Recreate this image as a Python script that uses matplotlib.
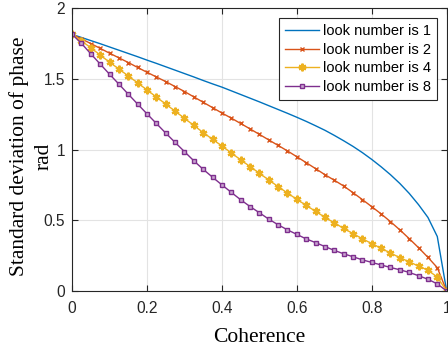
import numpy as np
import matplotlib
matplotlib.use("Agg")
import matplotlib.pyplot as plt

coherence = [i * 0.025 for i in range(41)]

std_L1 = [1.814, 1.792, 1.770, 1.748, 1.725, 1.702, 1.679, 1.656, 1.632, 1.609,
          1.585, 1.561, 1.537, 1.513, 1.488, 1.464, 1.441, 1.415, 1.389, 1.363,
          1.337, 1.310, 1.283, 1.256, 1.228, 1.199, 1.168, 1.136, 1.100, 1.062,
          1.022, 0.978, 0.930, 0.878, 0.822, 0.760, 0.690, 0.610, 0.520, 0.385,
          0.000]
std_L2 = [1.814, 1.782, 1.749, 1.715, 1.681, 1.648, 1.615, 1.580, 1.546, 1.513,
          1.480, 1.445, 1.410, 1.372, 1.334, 1.296, 1.258, 1.222, 1.184, 1.146,
          1.107, 1.068, 1.029, 0.990, 0.949, 0.907, 0.865, 0.822, 0.783, 0.742,
          0.695, 0.646, 0.596, 0.545, 0.490, 0.432, 0.370, 0.306, 0.238, 0.165,
          0.000]
std_L4 = [1.814, 1.768, 1.719, 1.668, 1.617, 1.569, 1.520, 1.471, 1.421, 1.371,
          1.321, 1.271, 1.221, 1.170, 1.120, 1.072, 1.025, 0.976, 0.927, 0.880,
          0.832, 0.785, 0.738, 0.692, 0.648, 0.605, 0.563, 0.521, 0.481, 0.443,
          0.405, 0.369, 0.335, 0.302, 0.268, 0.236, 0.206, 0.176, 0.147, 0.098,
          0.000]
std_L8 = [1.814, 1.750, 1.676, 1.604, 1.532, 1.462, 1.391, 1.321, 1.252, 1.184,
          1.116, 1.050, 0.985, 0.920, 0.860, 0.804, 0.750, 0.697, 0.645, 0.597,
          0.553, 0.508, 0.468, 0.432, 0.400, 0.368, 0.342, 0.314, 0.287, 0.263,
          0.242, 0.220, 0.202, 0.184, 0.166, 0.150, 0.131, 0.108, 0.083, 0.050,
          0.000]

labels = ["look number is 1", "look number is 2", "look number is 4", "look number is 8"]
xticks = [0, 0.2, 0.4, 0.6, 0.8, 1]
xticklabels = ["0", "0.2", "0.4", "0.6", "0.8", "1"]
yticks = [0, 0.5, 1, 1.5, 2]
yticklabels = ["0", "0.5", "1", "1.5", "2"]

fig = plt.figure(figsize=(4.48, 3.51), dpi=100)
ax = fig.add_axes([0.161, 0.171, 0.836, 0.806])

ax.plot(coherence, std_L1, color="#0072BD", lw=1.0, label=labels[0])
ax.plot(coherence, std_L2, color="#D95319", lw=1.0, marker="x", ms=3.5, mew=1.0, label=labels[1])
ax.plot(coherence, std_L4, color="#EDB120", lw=1.0, marker=(6, 2, 0), ms=5.5, mew=1.6, label=labels[2])
ax.plot(coherence, std_L8, color="#7E2F8E", lw=1.0, marker="s", ms=3.5, mew=1.0,
        mfc="#C9A6D0", label=labels[3])

ax.set_xlim(0, 1)
ax.set_ylim(0, 2)
ax.set_xticks(xticks)
ax.set_xticklabels(xticklabels)
ax.set_yticks(yticks)
ax.set_yticklabels(yticklabels)
ax.grid(True, color="#E3E3E3", lw=0.8)
ax.set_axisbelow(True)
ax.tick_params(direction="in", top=True, right=True, length=4, width=0.8,
               colors="#262626", labelsize=11.2)
ax.tick_params(axis="y", pad=5)
ax.tick_params(axis="x", pad=7.5)
for lab in ax.get_xticklabels() + ax.get_yticklabels():
    lab.set_family("Liberation Sans")
for s in ax.spines.values():
    s.set_color("#262626")
    s.set_linewidth(0.8)

ax.set_xlabel("Coherence", fontsize=15.5, family="Liberation Serif", labelpad=8)
ylab = ax.set_ylabel("Standard deviation of phase\nrad", fontsize=15.5,
                     family="Liberation Serif", linespacing=1.4)
ylab.set_va("center")
ax.yaxis.set_label_coords(-0.11, 0.477)

leg = ax.legend(loc="upper right", prop={"family": "Liberation Sans", "size": 10.5},
                fancybox=False, framealpha=1, edgecolor="#262626", handlelength=2.33,
                borderaxespad=0.68, labelspacing=0.33, borderpad=0.4, handletextpad=0.3)
leg.get_frame().set_linewidth(0.8)

fig.savefig("out.png", dpi=100)
